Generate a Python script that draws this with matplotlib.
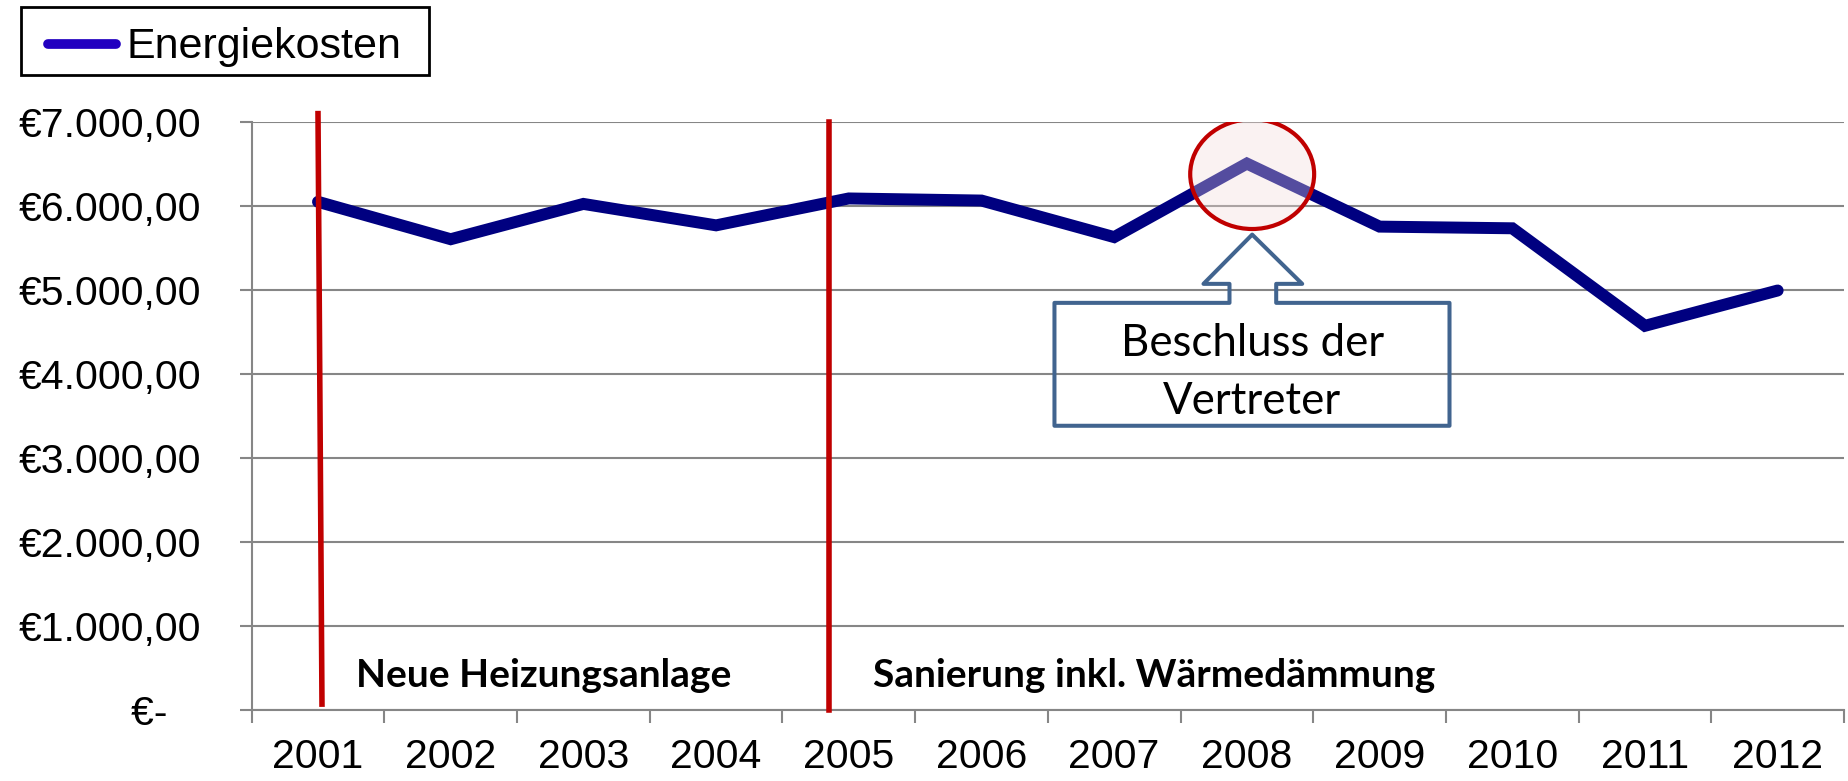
import matplotlib
matplotlib.use('Agg')
import matplotlib.pyplot as plt
from matplotlib.patches import Ellipse, Polygon, Rectangle
from matplotlib.lines import Line2D
import numpy as np

# Energiekosten pro Jahr (EUR)
years = ['2001', '2002', '2003', '2004', '2005', '2006',
         '2007', '2008', '2009', '2010', '2011', '2012']
energiekosten = [6045, 5600, 6020, 5765, 6085, 6060,
                 5625, 6500, 5750, 5730, 4570, 4990]
y_ticks = [0, 1000, 2000, 3000, 4000, 5000, 6000, 7000]

# Markierungen (rote Linien) und Beschriftungen
massnahmen = ['Neue Heizungsanlage', 'Sanierung inkl. Wärmedämmung']
marker_x = [(0.0, 0.03), (3.85, 3.85)]
marker_y = [(7094, 70), (7000, 0)]
callout_lines = ['Beschluss der', 'Vertreter']
peak_idx = 7


def euro(v):
    if v == 0:
        return '€-   '
    s = f'{v:,.2f}'
    return '€' + s.replace(',', 'X').replace('.', ',').replace('X', '.')


W, H = 1849, 781
fig = plt.figure(figsize=(W / 100, H / 100), dpi=100)
ax = fig.add_axes([0.1361, 0.0909, 0.8612, 0.7535])

x = np.arange(len(years))
line, = ax.plot(x, energiekosten, color='#000080', lw=8.6, solid_joinstyle='miter',
                solid_capstyle='round', zorder=3)

ax.set_xlim(-0.5, len(years) - 0.5)
ax.set_ylim(0, 7000)

grey = '#868686'
ax.set_yticks(y_ticks)
ax.set_yticklabels([euro(v) for v in y_ticks], fontfamily='Liberation Sans')
ax.yaxis.grid(True, color=grey, lw=1.5)
ax.set_axisbelow(True)
for side in ['top', 'right']:
    ax.spines[side].set_visible(False)
for side in ['left', 'bottom']:
    ax.spines[side].set_color(grey)
    ax.spines[side].set_linewidth(1.5)

ax.set_xticks(np.arange(-0.5, len(years), 1))
ax.set_xticklabels([])
ax.set_xticks(x, minor=True)
ax.set_xticklabels(years, minor=True, fontfamily='Liberation Sans')
ax.tick_params(axis='x', which='major', direction='out', length=9, width=1.5, color=grey)
ax.tick_params(axis='x', which='minor', length=0, pad=20.5, labelsize=29.5)
ax.tick_params(axis='y', direction='out', length=9, width=1.5, color=grey, pad=27, labelsize=29.5)

# rote Linien + Texte
for (mx, my) in zip(marker_x, marker_y):
    ax.plot(mx, my, color='#c00000', lw=4, clip_on=False, zorder=4)
ax.text(0.29, 415, massnahmen[0], fontfamily='Lato', fontweight='bold',
        fontsize=28, va='center', ha='left')
ax.text(4.18, 415, massnahmen[1], fontfamily='Lato', fontweight='bold',
        fontsize=28, va='center', ha='left')

# Kreis um den Höchstwert
px, py = peak_idx + 0.04, energiekosten[peak_idx]
ax.add_patch(Ellipse((px, py - 126), width=0.934, height=1305,
                     facecolor=(0.95, 0.86, 0.86, 0.35), edgecolor='#c00000',
                     lw=3, zorder=5))

# Pfeil-Callout
tip_y = py - 845
head_y = py - 1431
box_top = py - 1657
box_bot = py - 3119
pts = [(px, tip_y), (px + 0.377, head_y), (px + 0.181, head_y),
       (px + 0.181, box_top), (px + 1.487, box_top), (px + 1.487, box_bot),
       (px - 1.49, box_bot), (px - 1.49, box_top), (px - 0.171, box_top),
       (px - 0.171, head_y), (px - 0.367, head_y)]
ax.add_patch(Polygon(pts, closed=True, fill=False, edgecolor='#41648f',
                     lw=2.9, joinstyle='round', zorder=5))
for txt, dy in zip(callout_lines, [-2289, -2980]):
    ax.text(px, py + dy, txt, fontfamily='Lato', fontsize=31.5,
            ha='center', va='baseline', zorder=6)

# Legende (von Hand, oben links)
fig.patches.append(Rectangle((20.7 / W, 1 - 75 / H), 408 / W, 68.3 / H,
                             transform=fig.transFigure, fill=False,
                             edgecolor='black', lw=2))
fig.lines.append(Line2D([47.7 / W, 116 / W], [1 - 44.3 / H] * 2,
                        transform=fig.transFigure, color='#2200c0', lw=7,
                        solid_capstyle='round'))
fig.text(126 / W, 1 - 58.3 / H, 'Energiekosten', fontfamily='Liberation Sans',
         fontsize=31, va='baseline', ha='left')

fig.savefig('out.png', dpi=100)
